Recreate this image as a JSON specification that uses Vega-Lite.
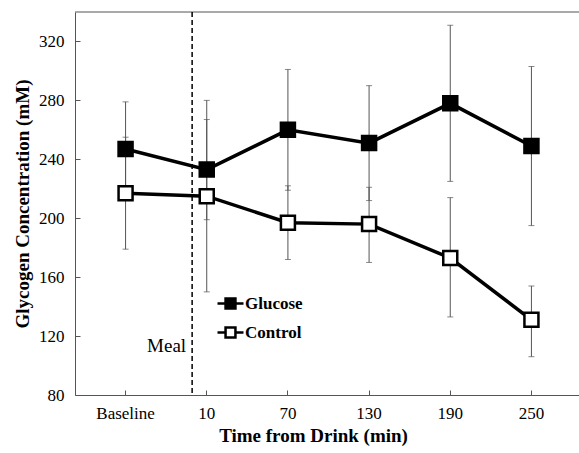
{
  "$schema": "https://vega.github.io/schema/vega-lite/v6.json",
  "width": 507,
  "height": 383,
  "autosize": {"type": "none"},
  "padding": {"left": 75, "top": 12, "right": 0, "bottom": 58},
  "background": "white",
  "config": {
    "view": {"stroke": null},
    "font": "Liberation Serif",
    "axis": {"domainColor": "#555", "tickColor": "#555", "labelColor": "#000", "titleColor": "#000", "labelFont": "Liberation Serif", "titleFont": "Liberation Serif", "grid": false}
  },
  "data": {
    "values": [
      {"time": "Baseline", "group": "Glucose", "mean": 247, "lo": 215, "hi": 279},
      {"time": "10", "group": "Glucose", "mean": 233, "lo": 199, "hi": 267},
      {"time": "70", "group": "Glucose", "mean": 260, "lo": 219, "hi": 301},
      {"time": "130", "group": "Glucose", "mean": 251, "lo": 212, "hi": 290},
      {"time": "190", "group": "Glucose", "mean": 278, "lo": 225, "hi": 331},
      {"time": "250", "group": "Glucose", "mean": 249, "lo": 195, "hi": 303},
      {"time": "Baseline", "group": "Control", "mean": 217, "lo": 179, "hi": 255},
      {"time": "10", "group": "Control", "mean": 215, "lo": 150, "hi": 280},
      {"time": "70", "group": "Control", "mean": 197, "lo": 172, "hi": 222},
      {"time": "130", "group": "Control", "mean": 196, "lo": 170, "hi": 221},
      {"time": "190", "group": "Control", "mean": 173, "lo": 133, "hi": 214},
      {"time": "250", "group": "Control", "mean": 131, "lo": 106, "hi": 154}
    ]
  },
  "encoding": {
    "x": {
      "field": "time", "type": "nominal",
      "scale": {"type": "band", "domain": ["Baseline", "10", "70", "130", "190", "250"], "paddingInner": 0, "paddingOuter": 0.123},
      "axis": {"title": "Time from Drink (min)", "labelAngle": 0, "labelFontSize": 17, "labelPadding": 15, "tickSize": -5, "titleFontSize": 19, "titleFontWeight": "bold", "titlePadding": 5, "titleX": 238}
    }
  },
  "layer": [
    {
      "data": {"values": [{"edge": 340}]},
      "mark": {"type": "rule", "color": "#555", "strokeWidth": 1},
      "encoding": {
        "x": null,
        "y": {"field": "edge", "type": "quantitative", "scale": {"domain": [80, 340], "zero": false}}
      }
    },
    {
      "data": {"values": [{"label": "Meal"}]},
      "mark": {"type": "rule", "strokeDash": [5, 3], "strokeWidth": 1.5, "color": "#000"},
      "encoding": {
        "x": {"datum": "10", "bandPosition": 0.32},
        "y": {"value": 0},
        "y2": {"value": 383}
      }
    },
    {
      "data": {"values": [{"label": "Meal"}]},
      "mark": {"type": "text", "align": "right", "baseline": "middle", "font": "Liberation Serif", "fontSize": 19, "dx": -6, "color": "#000"},
      "encoding": {
        "x": {"datum": "10", "bandPosition": 0.32},
        "y": {"datum": 113, "scale": {"domain": [80, 340], "zero": false}},
        "text": {"field": "label"}
      }
    },
    {
      "mark": {"type": "rule", "color": "#555", "strokeWidth": 1},
      "encoding": {
        "y": {"field": "lo", "type": "quantitative", "scale": {"domain": [80, 340], "zero": false}},
        "y2": {"field": "hi"}
      }
    },
    {
      "mark": {"type": "tick", "color": "#555", "size": 6, "thickness": 1},
      "encoding": {"y": {"field": "lo", "type": "quantitative", "scale": {"domain": [80, 340], "zero": false}}}
    },
    {
      "mark": {"type": "tick", "color": "#555", "size": 6, "thickness": 1},
      "encoding": {"y": {"field": "hi", "type": "quantitative", "scale": {"domain": [80, 340], "zero": false}}}
    },
    {
      "mark": {"type": "line", "color": "#000", "strokeWidth": 3.5},
      "encoding": {
        "y": {"field": "mean", "type": "quantitative", "scale": {"domain": [80, 340], "zero": false}},
        "detail": {"field": "group"}
      }
    },
    {
      "mark": {"type": "point", "shape": "square", "filled": true, "stroke": "#000", "strokeWidth": 2.5, "size": 196, "opacity": 1},
      "encoding": {
        "y": {
          "field": "mean", "type": "quantitative",
          "scale": {"domain": [80, 340], "zero": false},
          "axis": {"title": "Glycogen Concentration (mM)", "values": [80, 120, 160, 200, 240, 280, 320], "labelFontSize": 17, "labelPadding": 16, "tickSize": -5, "titleFontSize": 19, "titleFontWeight": "bold", "titlePadding": 6}
        },
        "fill": {
          "field": "group", "type": "nominal",
          "scale": {"domain": ["Glucose", "Control"], "range": ["#000", "#fff"]},
          "legend": {
            "title": null, "orient": "none", "legendX": 141, "legendY": 277, "padding": 0,
            "symbolType": "M-1,0H-0.38M0.38,0H1M-0.38,-0.38H0.38V0.38H-0.38Z",
            "symbolSize": 676, "symbolStrokeColor": "#000", "symbolStrokeWidth": 2.5, "symbolOpacity": 1,
            "labelFont": "Liberation Serif", "labelFontSize": 17, "labelFontWeight": "bold", "labelColor": "#000", "labelOffset": 0, "rowPadding": 4
          }
        }
      }
    }
  ]
}
